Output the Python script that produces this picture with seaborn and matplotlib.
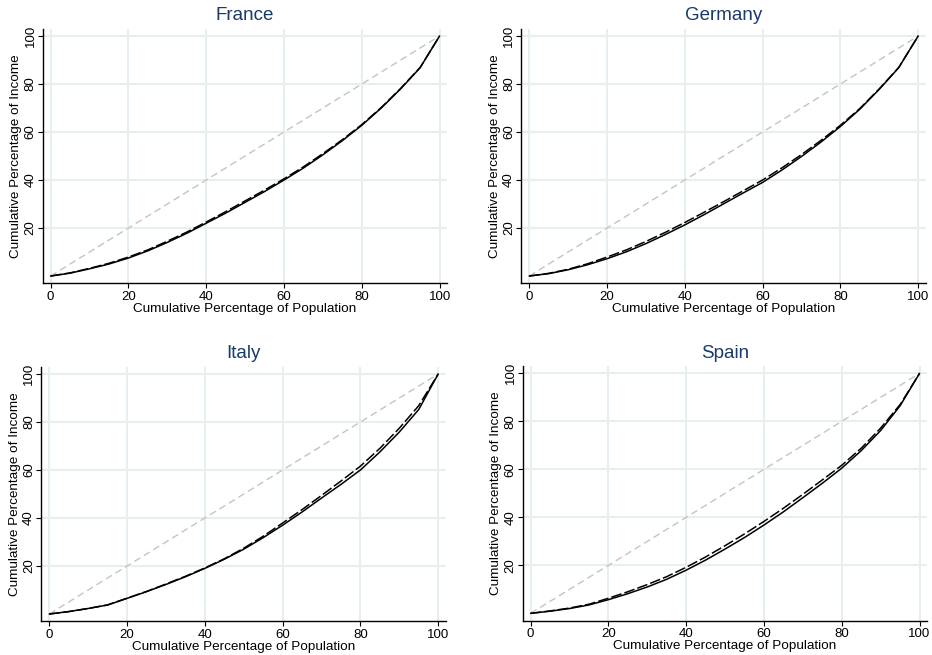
import matplotlib
matplotlib.use("Agg")
import matplotlib.pyplot as plt
import seaborn as sns
import pandas as pd

sns.set_theme(style="white")
plt.rcParams['font.family'] = ['Liberation Sans', 'DejaVu Sans']

population = [0, 5, 10, 15, 20, 25, 30, 35, 40, 45, 50, 55, 60, 65, 70, 75, 80, 85, 90, 95, 100]
equality = [0, 100]

countries = ["France", "Germany", "Italy", "Spain"]

france_solid = [0, 1.2, 3.0, 5.0, 7.5, 10.5, 14.0, 17.8, 22.0, 26.2, 30.7, 35.2, 40.0, 45.0, 50.5, 56.4, 62.8, 70.0, 78.0, 86.8, 100]
france_dashed = [0, 1.3, 3.2, 5.3, 7.9, 10.9, 14.5, 18.3, 22.5, 26.8, 31.3, 35.8, 40.5, 45.5, 51.0, 56.8, 63.1, 70.2, 78.2, 86.9, 100]

germany_solid = [0, 1.0, 2.6, 4.7, 7.2, 10.1, 13.5, 17.3, 21.3, 25.6, 30.1, 34.6, 39.0, 44.2, 49.8, 55.8, 62.3, 69.5, 77.8, 86.8, 100]
germany_dashed = [0, 1.1, 2.8, 5.1, 7.9, 10.9, 14.4, 18.2, 22.3, 26.6, 31.0, 35.5, 40.0, 45.1, 50.6, 56.5, 62.8, 69.8, 78.0, 86.9, 100]

italy_solid = [0, 1.0, 2.3, 3.75, 6.5, 9.3, 12.3, 15.5, 19.0, 22.8, 27.0, 31.8, 37.0, 42.5, 48.3, 54.0, 60.0, 67.5, 75.8, 85.2, 100]
italy_dashed = [0, 1.0, 2.3, 3.8, 6.6, 9.4, 12.5, 15.7, 19.2, 23.0, 27.4, 32.4, 37.9, 43.5, 49.4, 55.4, 61.6, 69.0, 77.4, 86.8, 100]

spain_solid = [0, 0.9, 2.0, 3.5, 5.7, 8.2, 11.0, 14.2, 18.0, 22.2, 26.8, 31.6, 36.8, 42.3, 48.2, 54.2, 60.5, 67.8, 76.2, 86.5, 100]
spain_dashed = [0, 1.0, 2.2, 3.8, 6.3, 9.0, 12.0, 15.3, 19.2, 23.5, 28.2, 33.1, 38.3, 43.8, 49.6, 55.6, 61.7, 68.8, 77.2, 87.0, 100]

solid_series = [france_solid, germany_solid, italy_solid, spain_solid]
dashed_series = [france_dashed, germany_dashed, italy_dashed, spain_dashed]

x_ticks = [0, 20, 40, 60, 80, 100]
y_ticks = [20, 40, 60, 80, 100]

fig = plt.figure(figsize=(9.32, 6.55), dpi=100)
positions = [
    [0.046, 0.5676, 0.434, 0.3884],
    [0.5595, 0.5676, 0.434, 0.3884],
    [0.0445, 0.0516, 0.434, 0.3884],
    [0.561, 0.0526, 0.434, 0.3884],
]

title_color = "#1a3a6b"
grid_color = "#e6eef0"

for i, name in enumerate(countries):
    ax = fig.add_axes(positions[i])
    df = pd.DataFrame({"pop": population, "solid": solid_series[i], "dashed": dashed_series[i]})
    diag = pd.DataFrame({"x": equality, "y": equality})
    sns.lineplot(data=diag, x="x", y="y", ax=ax, color="#c4c4c4", linewidth=1.0,
                 linestyle=(0, (5, 3)))
    sns.lineplot(data=df, x="pop", y="dashed", ax=ax, color="black", linewidth=1.1,
                 linestyle=(0, (7, 2)))
    sns.lineplot(data=df, x="pop", y="solid", ax=ax, color="black", linewidth=1.1)
    ax.set_xlim(-2, 102)
    ax.set_ylim(-3, 103)
    ax.set_xticks(x_ticks)
    ax.set_yticks(y_ticks)
    ax.set_yticklabels([str(v) for v in y_ticks], rotation=90, va="center")
    ax.tick_params(axis="both", labelsize=9.5, length=3.6, width=0.8, color="black",
                   labelcolor="black", direction="out")
    ax.tick_params(axis="y", left=True, pad=1)
    ax.tick_params(axis="x", bottom=True, pad=2)
    ax.grid(True, color=grid_color, linewidth=1.5)
    ax.set_axisbelow(True)
    for s in ["top", "right"]:
        ax.spines[s].set_visible(False)
    for s in ["left", "bottom"]:
        ax.spines[s].set_color("black")
        ax.spines[s].set_linewidth(1.0)
    ax.set_xlabel("Cumulative Percentage of Population", fontsize=9.7, color="black", labelpad=0)
    ax.set_ylabel("Cumulative Percentage of Income", fontsize=9.7, color="black", labelpad=1.8)
    ax.set_title(name, fontsize=13.5, color=title_color, pad=6)

fig.savefig("out.png", dpi=100, facecolor="white")
